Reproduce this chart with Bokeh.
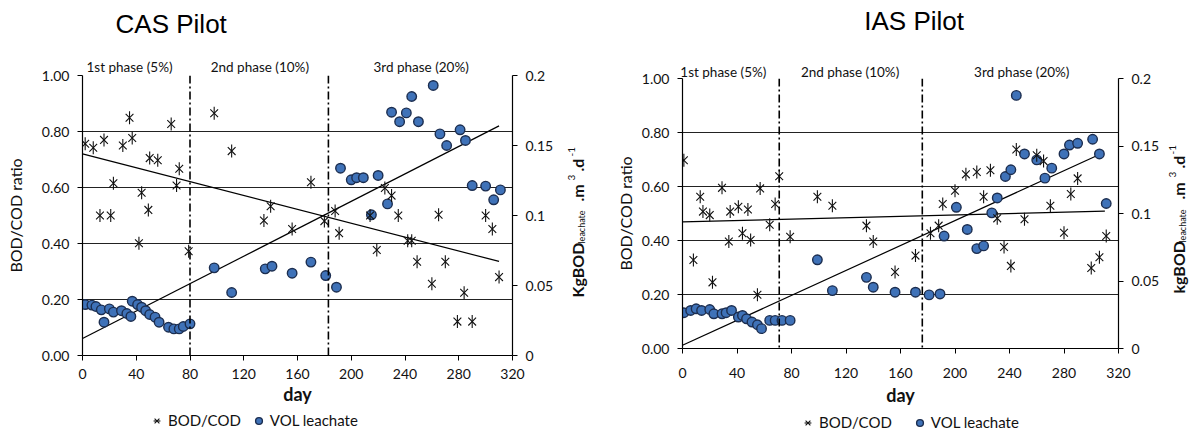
import math
from bokeh.plotting import figure
from bokeh.models import (Range1d, LinearAxis, Label, Span, Legend, LegendItem,
                          FixedTicker, NumeralTickFormatter, PrintfTickFormatter)
from bokeh.layouts import row, column
from bokeh.embed import file_html
from bokeh.resources import INLINE

# ---------------- data ----------------
x_ticks = [0, 40, 80, 120, 160, 200, 240, 280, 320]
ratio_ticks = [0.0, 0.2, 0.4, 0.6, 0.8, 1.0]
vol_ticks = [0.0, 0.05, 0.1, 0.15, 0.2]
phase_labels = ["1st phase (5%)", "2nd phase (10%)", "3rd phase (20%)"]
series_labels = ["BOD/COD", "VOL leachate"]

cas_bod_day = [2, 8, 13, 16, 21, 23, 30, 35, 37, 42, 44, 49, 50, 56, 66, 70, 72, 79,
               98, 111, 135, 140, 156, 170, 180, 188, 191, 214, 219, 225, 230, 235,
               242, 245, 249, 260, 265, 270, 279, 284, 290, 300, 305, 310]
cas_bod = [0.756, 0.742, 0.50, 0.77, 0.50, 0.615, 0.75, 0.849, 0.777, 0.401, 0.581,
           0.52, 0.705, 0.697, 0.827, 0.607, 0.667, 0.372, 0.865, 0.73, 0.482, 0.533,
           0.452, 0.619, 0.48, 0.516, 0.437, 0.50, 0.377, 0.598, 0.571, 0.50, 0.41,
           0.41, 0.335, 0.256, 0.503, 0.335, 0.121, 0.224, 0.121, 0.50, 0.452, 0.28]
cas_vol_day = [2, 7, 10, 14, 16, 20, 23, 29, 33, 36, 37, 41, 44, 47, 50, 54, 57, 64,
               68, 72, 75, 80, 98, 111, 136, 141, 156, 170, 181, 189, 192, 200, 204,
               209, 215, 220, 227, 230, 236, 241, 245, 250, 261, 266, 271, 281, 285,
               290, 300, 306, 311]
cas_vol = [0.0364, 0.036, 0.035, 0.0326, 0.0238, 0.0333, 0.031, 0.032, 0.030, 0.0279,
           0.0388, 0.0364, 0.0345, 0.032, 0.0293, 0.0274, 0.0238, 0.0202, 0.019, 0.019,
           0.0207, 0.0226, 0.0626, 0.045, 0.0619, 0.0638, 0.0588, 0.0667, 0.0571,
           0.0488, 0.1338, 0.1255, 0.127, 0.127, 0.1005, 0.1286, 0.1083, 0.1738, 0.167,
           0.1733, 0.185, 0.167, 0.1929, 0.1583, 0.15, 0.1612, 0.1536, 0.1214, 0.121,
           0.1112, 0.1183]
cas_trend_day = [0, 310]
cas_bod_trend = [0.72, 0.336]
cas_vol_trend = [0.0121, 0.164]
cas_phase_ends = [80, 183]

ias_bod_day = [1, 8, 13, 15, 20, 22, 29, 34, 35, 41, 44, 48, 50, 55, 57, 64, 68, 71, 79,
               99, 110, 135, 140, 156, 171, 182, 188, 191, 200, 208, 216, 221, 226,
               231, 236, 241, 245, 251, 260, 265, 270, 280, 285, 290, 300, 306, 311]
ias_bod = [0.697, 0.328, 0.562, 0.507, 0.494, 0.245, 0.595, 0.396, 0.507, 0.525, 0.427,
           0.515, 0.402, 0.199, 0.593, 0.458, 0.535, 0.638, 0.414, 0.562, 0.529, 0.455,
           0.396, 0.283, 0.344, 0.427, 0.455, 0.535, 0.584, 0.645, 0.654, 0.562, 0.66,
           0.482, 0.376, 0.306, 0.737, 0.479, 0.716, 0.694, 0.529, 0.429, 0.572, 0.63,
           0.298, 0.338, 0.417]
ias_vol_day = [1, 6, 10, 14, 20, 23, 29, 32, 36, 41, 44, 47, 51, 55, 58, 64, 68, 73, 79,
               99, 110, 135, 140, 156, 171, 181, 189, 192, 201, 209, 216, 221, 227, 231,
               237, 241, 245, 251, 260, 266, 271, 280, 284, 290, 301, 306, 311]
ias_vol = [0.0265, 0.0282, 0.0294, 0.0282, 0.0289, 0.0257, 0.0257, 0.0265, 0.0282,
           0.0233, 0.0245, 0.022, 0.0196, 0.0176, 0.0147, 0.0208, 0.0208, 0.0208, 0.0208,
           0.0657, 0.0429, 0.0527, 0.0454, 0.0417, 0.0417, 0.0397, 0.0404, 0.0833,
           0.1046, 0.0882, 0.074, 0.076, 0.1005, 0.1115, 0.1274, 0.1324, 0.1875, 0.1441,
           0.1397, 0.1262, 0.1336, 0.1441, 0.1507, 0.152, 0.155, 0.1441, 0.1074]
ias_trend_day = [0, 310]
ias_bod_trend = [0.469, 0.509]
ias_vol_trend_day = [0, 308]
ias_vol_trend = [0.0024, 0.1446]
ias_phase_ends = [71, 176]

FONT = "Lato"
TXT = "#111111"
H = 408      # chart figure height
HL = 22      # legend strip height

CIRCLE = dict(marker="circle", size=9.5, fill_color="#3f72b8", line_color="#1c2e50",
              line_width=1.4)
XMARK = dict(marker="x", size=11, line_color="#111111", line_width=1.1)
VMARK = dict(marker="dash", size=13, angle=math.pi / 2, line_color="#111111",
             line_width=1.1)


def style_axis(ax):
    ax.axis_line_color = "black"
    ax.axis_line_width = 1.2
    ax.major_tick_line_color = "black"
    ax.major_tick_out = 5
    ax.major_tick_in = 0
    ax.minor_tick_line_color = None
    ax.major_label_text_font = FONT
    ax.major_label_text_font_size = "14px"
    ax.major_label_text_color = TXT
    ax.major_label_standoff = 8
    ax.axis_label_text_font = FONT
    ax.axis_label_text_font_style = "normal"
    ax.axis_label_text_color = TXT


def text_axis(ticks, labels, standoff, font, size, color):
    """Tick-less axis used only to place text above the frame."""
    ax = LinearAxis(ticker=FixedTicker(ticks=ticks),
                    major_label_overrides={c: t for c, t in zip(ticks, labels)})
    ax.axis_line_color = None
    ax.major_tick_line_color = None
    ax.minor_tick_line_color = None
    ax.major_tick_out = 0
    ax.major_tick_in = 0
    ax.major_label_standoff = standoff
    ax.major_label_text_font = font
    ax.major_label_text_font_size = size
    ax.major_label_text_color = color
    return ax


def build(title, bod_day, bod, vol_day, vol, trend_day, bod_trend, vol_trend_day,
          vol_trend, phase_ends, lay):
    p = figure(width=lay["W"], height=H, x_range=Range1d(0, 320),
               y_range=Range1d(0, 1), output_backend="svg", toolbar_location=None,
               min_border_left=lay["bl"], min_border_right=lay["br"],
               min_border_top=lay["bt"], min_border_bottom=lay["bb"])
    p.extra_y_ranges = {"vol": Range1d(0, 0.2)}
    p.outline_line_color = None
    p.background_fill_color = "white"

    xb = p.below[0]
    yl = p.left[0]
    xb.ticker = FixedTicker(ticks=x_ticks)
    yl.ticker = FixedTicker(ticks=ratio_ticks)
    yl.formatter = NumeralTickFormatter(format="0.00")
    xb.axis_label = "day"
    yl.axis_label = "BOD/COD ratio"
    rax = LinearAxis(y_range_name="vol", ticker=FixedTicker(ticks=vol_ticks),
                     formatter=PrintfTickFormatter(format="%g"))
    p.add_layout(rax, "right")
    for ax in [xb, yl, rax]:
        style_axis(ax)
    xb.axis_label_text_font_size = "18px"
    xb.axis_label_standoff = lay["day_standoff"]
    xb.major_label_standoff = lay["xtick_standoff"]
    xb.axis_label_text_font_style = "bold"
    yl.axis_label_text_font_size = "16px"
    yl.axis_label_standoff = lay["ylab_standoff"]

    # phase labels and title as tick-less axes above the frame
    p.add_layout(text_axis(lay["phase_c"], phase_labels, lay["phase_standoff"],
                           FONT, "13.5px", TXT), "above")
    p.add_layout(text_axis([lay["title_c"]], [title], lay["title_standoff"],
                           "Liberation Sans", "26px", "black"), "above")

    # grid
    p.xgrid.grid_line_color = None
    p.ygrid.ticker = FixedTicker(ticks=[0.2, 0.4, 0.6, 0.8, 1.0])
    p.ygrid.grid_line_color = "#222222"
    p.ygrid.grid_line_width = 1.2

    # phase boundaries
    for d in phase_ends:
        p.add_layout(Span(location=d, dimension="height", line_color="black",
                          line_width=1.6, line_dash="8 3 2 3"))

    # trend lines
    p.line(trend_day, bod_trend, line_color="black", line_width=1.2)
    p.line(vol_trend_day, vol_trend, line_color="black", line_width=1.2,
           y_range_name="vol")

    # data
    p.scatter(vol_day, vol, y_range_name="vol", **CIRCLE)
    p.scatter(bod_day, bod, **XMARK)
    p.scatter(bod_day, bod, **VMARK)
    return p


def legend_strip(width, bod_day, bod, vol_day, vol, loc, spacing):
    # the series are drawn here out of view; only the legend is visible
    f = figure(width=width, height=HL, x_range=Range1d(-2000, -1000),
               y_range=Range1d(-2000, -1000),
               output_backend="svg", toolbar_location=None, x_axis_type=None,
               y_axis_type=None, min_border_left=0, min_border_right=0,
               min_border_top=0, min_border_bottom=0)
    f.outline_line_color = None
    f.xgrid.visible = False
    f.ygrid.visible = False
    rx = f.scatter(bod_day, bod, **XMARK)
    rv = f.scatter(bod_day, bod, **VMARK)
    rc = f.scatter(vol_day, vol, **CIRCLE)
    lg = Legend(items=[LegendItem(label=series_labels[0], renderers=[rx, rv], index=0),
                       LegendItem(label=series_labels[1], renderers=[rc], index=0)],
                location=loc, orientation="horizontal",
                background_fill_alpha=0, border_line_alpha=0, padding=0,
                margin=0, spacing=spacing, glyph_width=17, glyph_height=17,
                label_standoff=3, label_text_font=FONT, label_text_font_size="15px",
                label_text_color=TXT, label_height=17)
    f.add_layout(lg)
    return f


def unit_label(x0, width, xc, pieces):
    """Narrow text strip holding the rotated right-axis label (page coordinates)."""
    f = figure(width=width, height=H + HL, x_range=Range1d(x0, x0 + width),
               y_range=Range1d(H + HL, 0), output_backend="svg",
               toolbar_location=None, x_axis_type=None, y_axis_type=None,
               min_border_left=0, min_border_right=0,
               min_border_top=0, min_border_bottom=0)
    f.outline_line_color = None
    f.xgrid.visible = False
    f.ygrid.visible = False
    for txt, size, y0, dx in pieces:
        f.add_layout(Label(x=xc + dx, y=y0, text=txt, angle=math.pi / 2,
                           text_font=FONT, text_font_size=size,
                           text_font_style="bold" if size == "16px" else "normal",
                           text_color=TXT, text_align="left",
                           text_baseline="middle"))
    return f


cas_lay = dict(W=565, bl=82, br=53, bt=75, bb=53,
               ylab_standoff=14, xtick_standoff=8, day_standoff=1,
               phase_c=[35, 132, 252], phase_standoff=1,
               title_c=66, title_standoff=17)
ias_lay = dict(W=567, bl=85, br=46, bt=78, bb=59,
               ylab_standoff=4, xtick_standoff=14, day_standoff=3,
               phase_c=[30, 123, 249], phase_standoff=-1,
               title_c=170, title_standoff=25)

p1 = build("CAS Pilot", cas_bod_day, cas_bod, cas_vol_day, cas_vol, cas_trend_day,
           cas_bod_trend, cas_trend_day, cas_vol_trend, cas_phase_ends, cas_lay)
l1 = legend_strip(565, cas_bod_day, cas_bod, cas_vol_day, cas_vol, (66, 1), 9)
u1 = unit_label(565, 32, 577, [("KgBOD", "16px", 297, 0), ("leachate", "9px", 243, 4),
                               (".m", "16px", 201, 0), ("3", "10px", 180, -6),
                               (".d", "16px", 171, 0), ("-1", "10px", 156, -6)])
p2 = build("IAS Pilot", ias_bod_day, ias_bod, ias_vol_day, ias_vol, ias_trend_day,
           ias_bod_trend, ias_vol_trend_day, ias_vol_trend, ias_phase_ends, ias_lay)
l2 = legend_strip(567, ias_bod_day, ias_bod, ias_vol_day, ias_vol, (117, -1), 19)
u2 = unit_label(1164, 26, 1178, [("kgBOD", "16px", 293, 0), ("leachate", "9px", 242, 4),
                                 (".m", "16px", 199, 0), ("3", "10px", 177, -6),
                                 (".d", "16px", 168, 0), ("-1", "10px", 154, -6)])

layout = row(column(p1, l1, spacing=0), u1, column(p2, l2, spacing=0), u2, spacing=0)
open("out.html", "w").write(file_html(layout, INLINE))
